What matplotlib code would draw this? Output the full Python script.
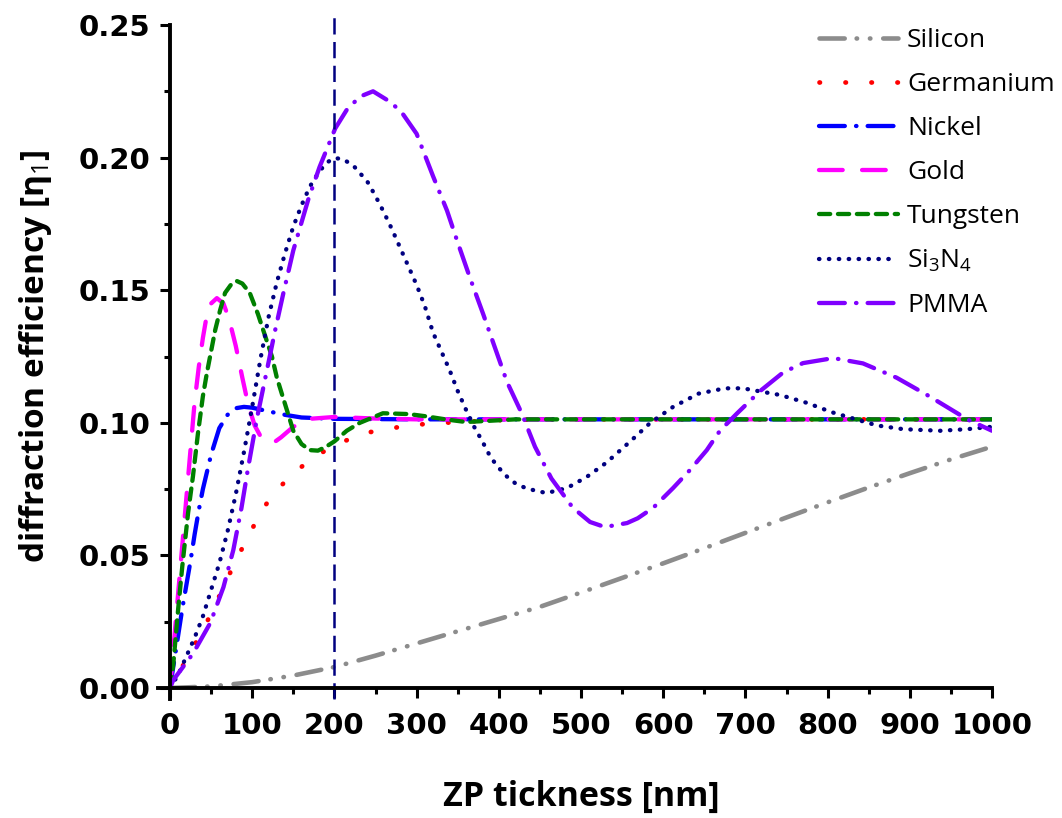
import matplotlib
matplotlib.use("Agg")
import matplotlib.pyplot as plt

plt.rcParams['mathtext.fontset'] = 'custom'
plt.rcParams['mathtext.rm'] = 'Open Sans'
plt.rcParams['mathtext.it'] = 'Open Sans:italic'
plt.rcParams['mathtext.bf'] = 'Open Sans:bold'

# ---------------- data ----------------
si_x = [0, 50, 100, 150, 200, 250, 300, 350, 400, 450, 500, 550, 600, 650, 700,
        750, 800, 850, 900, 950, 1000]
si_y = [0, 0.0006, 0.0022, 0.0047, 0.0079, 0.0122, 0.0168, 0.0214, 0.0260, 0.0306,
        0.0360, 0.0415, 0.0470, 0.0527, 0.0585, 0.0643, 0.0700, 0.0756, 0.0810,
        0.0862, 0.0910]

ge_x = [0, 10, 20, 35, 50, 65, 80, 95, 110, 125, 150, 175, 200, 235, 270, 300,
        340, 400, 450, 1000]
ge_y = [0, 0.005, 0.011, 0.019, 0.028, 0.038, 0.048, 0.057, 0.066, 0.073, 0.081,
        0.087, 0.0915, 0.096, 0.098, 0.0993, 0.1001, 0.1010, 0.1013, 0.1013]

ni_x = [0, 5, 10, 15, 20, 25, 30, 35, 40, 50, 60, 70, 80, 90, 100, 120, 140, 160,
        200, 300, 1000]
ni_y = [0, 0.010, 0.020, 0.030, 0.039, 0.048, 0.058, 0.067, 0.075, 0.088, 0.098,
        0.103, 0.1055, 0.106, 0.1057, 0.1043, 0.103, 0.102, 0.1015, 0.1013, 0.1013]

au_x = [0, 5, 10, 15, 20, 25, 30, 35, 40, 45, 50, 57, 65, 72, 80, 88, 95, 103, 110,
        118, 126, 135, 150, 170, 200, 250, 300, 1000]
au_y = [0, 0.018, 0.036, 0.054, 0.072, 0.090, 0.108, 0.121, 0.132, 0.141, 0.145,
        0.147, 0.145, 0.139, 0.129, 0.117, 0.107, 0.099, 0.095, 0.093, 0.0925,
        0.0945, 0.0985, 0.1015, 0.1022, 0.1016, 0.1013, 0.1013]

w_x = [0, 4, 10, 15, 22, 28, 34, 40, 45, 50, 55, 61, 67, 74, 81, 88, 97, 107, 116,
       124, 130, 136, 143, 150, 160, 170, 180, 190, 200, 215, 231, 259, 290, 310,
       335, 360, 385, 420, 1000]
w_y = [0, 0.009, 0.030, 0.046, 0.066, 0.080, 0.096, 0.110, 0.119, 0.127, 0.135,
       0.1425, 0.149, 0.152, 0.1535, 0.1525, 0.149, 0.141, 0.1325, 0.125, 0.117,
       0.111, 0.104, 0.097, 0.092, 0.0897, 0.0895, 0.091, 0.093, 0.097, 0.100,
       0.1036, 0.1033, 0.1025, 0.1013, 0.1003, 0.1007, 0.1013, 0.1013]

sin_x = [0, 10, 20, 30, 40, 50, 60, 70, 80, 90, 100, 110, 120, 130, 140, 150, 160,
         170, 180, 190, 200, 210, 223, 240, 250, 260, 270, 280, 290, 300, 310, 320,
         330, 340, 350, 360, 370, 380, 390, 400, 410, 420, 434, 458, 483, 507, 531,
         560, 584, 612, 643, 675, 697, 742, 775, 805, 827, 860, 892, 937, 970, 1000]
sin_y = [0, 0.005, 0.012, 0.019, 0.027, 0.037, 0.047, 0.059, 0.073, 0.089, 0.106,
         0.124, 0.140, 0.153, 0.164, 0.174, 0.182, 0.189, 0.194, 0.198, 0.1998,
         0.1995, 0.197, 0.191, 0.1855, 0.1795, 0.173, 0.166, 0.159, 0.152, 0.144,
         0.134, 0.127, 0.120, 0.112, 0.105, 0.0985, 0.093, 0.087, 0.083, 0.0797,
         0.0772, 0.0752, 0.0735, 0.0754, 0.0796, 0.085, 0.093, 0.0999, 0.106,
         0.111, 0.113, 0.113, 0.1105, 0.1075, 0.104, 0.102, 0.099, 0.0976, 0.097,
         0.0976, 0.0985]

pm_x = [0, 4, 28, 49, 65, 77, 87, 95, 106, 112, 118, 128, 138, 150, 168, 182, 201,
        215, 231, 247, 268, 282, 300, 320, 337, 350, 365, 381, 395, 410, 428, 444,
        464, 490, 511, 529, 556, 569, 588, 612, 632, 653, 669, 690, 718, 746, 770,
        807, 843, 884, 921, 945, 970, 1000]
pm_y = [0, 0.003, 0.013, 0.0245, 0.038, 0.052, 0.068, 0.083, 0.102, 0.111, 0.120,
        0.135, 0.149, 0.165, 0.184, 0.1965, 0.211, 0.218, 0.223, 0.225, 0.221,
        0.217, 0.209, 0.193, 0.180, 0.168, 0.1546, 0.141, 0.1286, 0.1154, 0.1035,
        0.091, 0.079, 0.068, 0.0626, 0.0607, 0.0622, 0.064, 0.068, 0.0754, 0.082,
        0.0897, 0.097, 0.1036, 0.112, 0.119, 0.1225, 0.1244, 0.1224, 0.117,
        0.1105, 0.106, 0.1013, 0.097]

labels = ['Silicon', 'Germanium', 'Nickel', 'Gold', 'Tungsten',
          r'Si$_3$N$_4$', 'PMMA']
marker_x = 200  # vertical reference line

# ---------------- figure ----------------
fig = plt.figure(figsize=(10.62, 8.18), dpi=100)
ax = fig.add_axes([170/1062, 130/818, 822/1062, 663/818])

lw = 3.1
series = [
    (si_x, si_y, dict(color='#8c8c8c', lw=3.3, dashes=(5.5, 2.6, 0.1, 2.8, 0.1, 2.8))),
    (ge_x, ge_y, dict(color='#ff0000', lw=3.4, dashes=(0.1, 5.4))),
    (ni_x, ni_y, dict(color='#0000ff', lw=lw, dashes=(6, 2.6, 0.1, 2.6))),
    (au_x, au_y, dict(color='#ff00ff', lw=lw, dashes=(5.5, 4.5))),
    (w_x, w_y, dict(color='#008000', lw=lw, dashes=(2.6, 1.8))),
    (sin_x, sin_y, dict(color='#000080', lw=lw, dashes=(0.1, 2.2))),
    (pm_x, pm_y, dict(color='#8000ff', lw=lw, dashes=(6, 2.6, 0.1, 2.6))),
]
for (x, y, st), lab in zip(series, labels):
    ax.plot(x, y, label=lab, dash_capstyle='round', solid_capstyle='round', **st)

ax.plot([marker_x, marker_x], [-0.004, 0.254], color='#000080', lw=1.8,
        dashes=(6.5, 3), clip_on=False)

ax.set_xlim(0, 1000)
ax.set_ylim(0, 0.25)
ax.set_xticks(range(0, 1001, 100))
ax.set_xticks(range(50, 1000, 100), minor=True)
ax.set_yticks([0, 0.05, 0.10, 0.15, 0.20, 0.25])
ax.set_yticklabels(['0.00', '0.05', '0.10', '0.15', '0.20', '0.25'])
ax.set_yticks([0.025, 0.075, 0.125, 0.175, 0.225], minor=True)

for s in ['top', 'right']:
    ax.spines[s].set_visible(False)
for s in ['left', 'bottom']:
    ax.spines[s].set_linewidth(2.8)
ax.spines['bottom'].set_bounds(-15, 1000)
ax.spines['left'].set_bounds(-0.004, 0.25)

ax.tick_params(which='major', direction='out', length=7, width=2.2,
               labelsize=21)
ax.tick_params(axis='x', which='major', pad=10)
ax.tick_params(axis='y', which='major', pad=7)
ax.tick_params(which='minor', direction='out', length=4, width=2.2)
for t in ax.get_xticklabels() + ax.get_yticklabels():
    t.set_fontweight('bold')
    t.set_family('DejaVu Sans')

ax.set_xlabel('ZP tickness [nm]', fontsize=24.5, fontweight='bold',
              family='Open Sans', labelpad=29)
ax.set_ylabel('diffraction efficiency [η$_1$]', fontsize=24, fontweight='bold',
              family='Open Sans', labelpad=18)

leg = ax.legend(loc='upper right', bbox_to_anchor=(1.105, 1.031), frameon=False,
                prop={'family': 'Open Sans', 'size': 19}, handlelength=3.0,
                handletextpad=0.35, labelspacing=0.72)

fig.savefig('out.png', dpi=100)
